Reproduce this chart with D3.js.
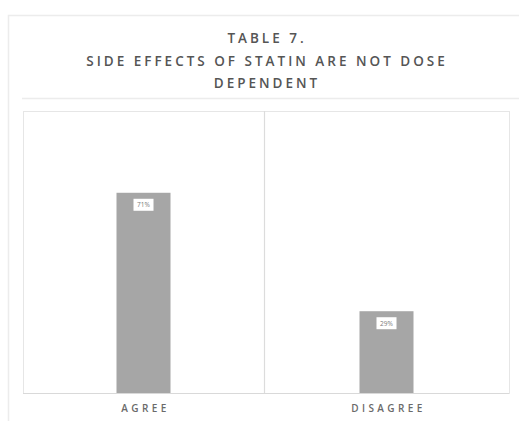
<!DOCTYPE html>
<html>
<head>
<meta charset="utf-8">
<script src="https://cdn.jsdelivr.net/npm/d3@7"></script>
<style>
  html, body { margin: 0; padding: 0; background: #fff; }
  svg { display: block; }
  text { font-family: "Open Sans", "Noto Sans", sans-serif; }
</style>
</head>
<body>
<svg id="chart" width="519" height="421"></svg>
<script>
// Survey responses (percent of respondents)
const categories = ["AGREE", "DISAGREE"];
const values = [71, 29];
const valueLabels = ["71%", "29%"];
const titleLines = ["TABLE 7.", "SIDE EFFECTS OF STATIN ARE NOT DOSE", "DEPENDENT"];

const W = 519, H = 421;
const svg = d3.select("#chart");

// outer frame and title frame
svg.append("rect").attr("x", 8.5).attr("y", 15.5).attr("width", 530).attr("height", 420)
  .attr("fill", "none").attr("stroke", "#ececec").attr("stroke-width", 1.5);
svg.append("line").attr("x1", 22).attr("x2", 519).attr("y1", 98.5).attr("y2", 98.5)
  .attr("stroke", "#ececec").attr("stroke-width", 1.5);

// title
const title = svg.append("text").attr("text-anchor", "middle")
  .attr("fill", "#555555").attr("font-size", 13.5).attr("font-weight", 600)
  .style("letter-spacing", "3px");
titleLines.forEach((t, i) => {
  title.append("tspan").attr("x", 267).attr("y", 43 + i * 22.5).text(t);
});

// plot area
const plot = { left: 23, top: 111, right: 509, bottom: 393 };
const x = d3.scaleBand().domain(categories).range([plot.left, plot.right]).paddingInner(0).paddingOuter(0);
const y = d3.scaleLinear().domain([0, 100]).range([plot.bottom, plot.top]);

const g = svg.append("g");
// panel borders
g.append("rect").attr("x", plot.left + 0.5).attr("y", plot.top + 0.5)
  .attr("width", plot.right - plot.left).attr("height", plot.bottom - plot.top)
  .attr("fill", "none").attr("stroke", "#e6e6e6").attr("stroke-width", 1);
categories.slice(1).forEach(c => {
  g.append("line").attr("x1", x(c) - 1.5).attr("x2", x(c) - 1.5)
    .attr("y1", plot.top).attr("y2", plot.bottom)
    .attr("stroke", "#dcdcdc").attr("stroke-width", 1.2);
});

// bars
const barW = 54;
g.selectAll("rect.bar").data(values).join("rect").attr("class", "bar")
  .attr("x", (d, i) => x(categories[i]) + x.bandwidth() / 2 - barW / 2 - 1)
  .attr("y", d => y(d))
  .attr("width", barW)
  .attr("height", d => y(0) - y(d))
  .attr("fill", "#a6a6a6");

// baseline
g.append("line").attr("x1", plot.left).attr("x2", plot.right)
  .attr("y1", plot.bottom + 0.5).attr("y2", plot.bottom + 0.5)
  .attr("stroke", "#d9d9d9").attr("stroke-width", 1.2);

// value labels in white boxes
values.forEach((d, i) => {
  const cx = x(categories[i]) + x.bandwidth() / 2 - 1;
  const cy = y(d) + 12;
  g.append("rect").attr("x", cx - 10).attr("y", cy - 6).attr("width", 20).attr("height", 12)
    .attr("fill", "#ffffff");
  g.append("text").attr("x", cx).attr("y", cy + 2.5).attr("text-anchor", "middle")
    .attr("font-size", 6.5).attr("fill", "#7a7a7a").text(valueLabels[i]);
});

// category labels
g.selectAll("text.cat").data(categories).join("text").attr("class", "cat")
  .attr("x", d => x(d) + x.bandwidth() / 2 + 1)
  .attr("y", 412)
  .attr("text-anchor", "middle")
  .attr("font-size", 10).attr("font-weight", 600)
  .attr("fill", "#6a6a6a")
  .style("letter-spacing", "3.4px")
  .text(d => d);
</script>
</body>
</html>
